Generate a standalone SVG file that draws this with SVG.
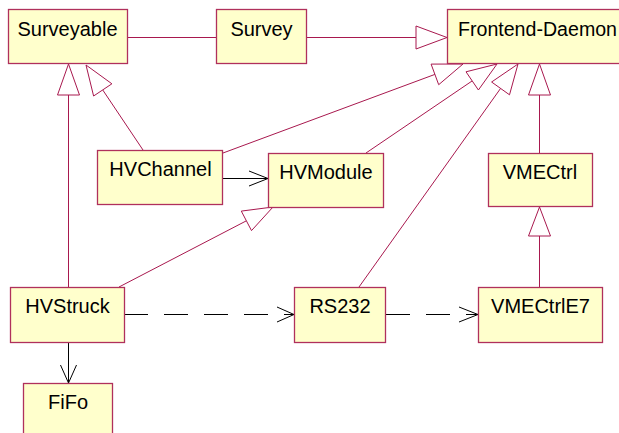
<svg xmlns="http://www.w3.org/2000/svg" width="619" height="433" viewBox="0 0 619 433">
<defs>
<style>
.box{fill:#ffffcc;stroke:#b0305c;stroke-width:1.3}
.t{font-family:"Liberation Sans",Arial,sans-serif;font-size:20px;fill:#000;text-anchor:middle}
.ln{fill:none;stroke:#a8184e;stroke-width:1}
.tri{fill:#fff;stroke:#a8184e;stroke-width:1}
.dep{fill:none;stroke:#000;stroke-width:1}
.dash{stroke-dasharray:24 16}
</style>
</defs>
<rect width="619" height="433" fill="#fff"/>
<g id="connectors">
<!-- association Surveyable - Survey -->
<line class="ln" x1="128" y1="37.5" x2="216" y2="37.5"/>
<!-- Survey -> Frontend-Daemon -->
<line class="ln" x1="307" y1="37.5" x2="416" y2="37.5"/>
<polygon class="tri" points="447,37.5 416,26 416,49"/>
<!-- HVStruck -> Surveyable -->
<line class="ln" x1="68.5" y1="287" x2="68.5" y2="95"/>
<polygon class="tri" points="68.5,64 57.5,95 79.5,95"/>
<!-- HVChannel -> Surveyable -->
<line class="ln" x1="143" y1="150" x2="102.7" y2="89.9"/>
<polygon class="tri" points="86,65 111.9,83.8 93.6,96"/>
<!-- HVChannel -> Frontend-Daemon -->
<line class="ln" x1="223" y1="153" x2="434.9" y2="74.4"/>
<polygon class="tri" points="463,64 438.7,84.7 431.1,64.1"/>
<!-- HVModule -> Frontend-Daemon -->
<line class="ln" x1="366" y1="153" x2="472.2" y2="80.9"/>
<polygon class="tri" points="497,64 478.4,90 466,71.8"/>
<!-- RS232 -> Frontend-Daemon -->
<line class="ln" x1="359" y1="287" x2="500.6" y2="88.4"/>
<polygon class="tri" points="518,64 509.5,94.8 491.6,82"/>
<!-- VMECtrl -> Frontend-Daemon -->
<line class="ln" x1="539.5" y1="153" x2="539.5" y2="95"/>
<polygon class="tri" points="539.5,64 528.5,95 550.5,95"/>
<!-- VMECtrlE7 -> VMECtrl -->
<line class="ln" x1="539.5" y1="287" x2="539.5" y2="236"/>
<polygon class="tri" points="539.5,207 528.5,236 550.5,236"/>
<!-- HVStruck -> HVModule -->
<line class="ln" x1="119" y1="287" x2="246.4" y2="220.8"/>
<polygon class="tri" points="273,207 251.5,230.6 241.3,211.1"/>
<!-- HVChannel -> HVModule -->
<line class="dep" x1="223" y1="178.5" x2="268" y2="178.5"/>
<polyline class="dep" points="249,171 268,178.5 249,186"/>
<!-- HVStruck -> RS232 (dependency) -->
<line class="dep dash" x1="124" y1="314.5" x2="294" y2="314.5"/>
<polyline class="dep" points="277,307 294,314.5 277,322"/>
<!-- RS232 -> VMECtrlE7 (dependency) -->
<line class="dep dash" x1="386" y1="314.5" x2="478" y2="314.5"/>
<polyline class="dep" points="459,307 478,314.5 459,322"/>
<!-- HVStruck -> FiFo -->
<line class="dep" x1="68.5" y1="342" x2="68.5" y2="383"/>
<polyline class="dep" points="60.5,365 68.5,383 76.5,365"/>
</g>
<g id="Surveyable"><rect class="box" x="8.5" y="9.5" width="119" height="54"/><text class="t" x="67.5" y="36">Surveyable</text></g>
<g id="Survey"><rect class="box" x="216.5" y="9.5" width="90" height="54"/><text class="t" x="261.5" y="36">Survey</text></g>
<g id="Frontend-Daemon"><rect class="box" x="447.5" y="9.5" width="194" height="54"/><text class="t" x="458" y="36" style="text-anchor:start" textLength="159" lengthAdjust="spacingAndGlyphs">Frontend-Daemon</text></g>
<g id="HVChannel"><rect class="box" x="97.5" y="150.5" width="125" height="54"/><text class="t" x="160.5" y="176">HVChannel</text></g>
<g id="HVModule"><rect class="box" x="268.5" y="153.5" width="115" height="54"/><text class="t" x="326" y="179">HVModule</text></g>
<g id="VMECtrl"><rect class="box" x="488.5" y="153.5" width="104" height="53"/><text class="t" x="540" y="179">VMECtrl</text></g>
<g id="HVStruck"><rect class="box" x="10.5" y="287.5" width="114" height="55"/><text class="t" x="67.5" y="313">HVStruck</text></g>
<g id="RS232"><rect class="box" x="294.5" y="287.5" width="91" height="55"/><text class="t" x="340" y="313">RS232</text></g>
<g id="VMECtrlE7"><rect class="box" x="478.5" y="287.5" width="124" height="55"/><text class="t" x="540.5" y="313">VMECtrlE7</text></g>
<g id="FiFo"><rect class="box" x="23.5" y="383.5" width="89" height="60"/><text class="t" x="68" y="409">FiFo</text></g>
</svg>
